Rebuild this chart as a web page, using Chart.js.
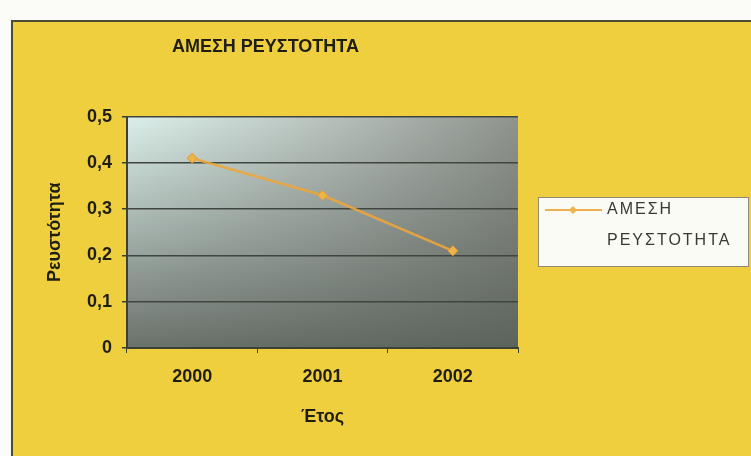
<!DOCTYPE html>
<html>
<head>
<meta charset="utf-8">
<title>ΑΜΕΣΗ ΡΕΥΣΤΟΤΗΤΑ</title>
<script src="https://cdn.jsdelivr.net/npm/chart.js@4/dist/chart.umd.min.js"></script>
<style>
  html, body { margin: 0; padding: 0; background: #fbfbf8; }
  body { width: 751px; height: 456px; overflow: hidden; position: relative; }
  #frame {
    position: absolute; left: 11px; top: 20px;
    width: 740px; height: 436px;
    background: #f0cf3f;
    border-left: 2px solid #4d4b37;
    border-top: 2px solid #4d4b37;
    box-sizing: border-box;
  }
  #chart { display: block; }
</style>
</head>
<body>
<div id="frame"><canvas id="chart" width="738" height="434"></canvas></div>
<script>
// Years on the category axis and the quick-ratio value for each year
const years = ['2000', '2001', '2002'];
const liquidity = [0.41, 0.33, 0.21];
const seriesName = 'ΑΜΕΣΗ ΡΕΥΣΤΟΤΗΤΑ';
const chartTitle = 'ΑΜΕΣΗ ΡΕΥΣΤΟΤΗΤΑ';
const yTitle = 'Ρευστότητα';
const xTitle = 'Έτος';

const FONT = "'Liberation Sans', Arial, sans-serif";

// Shaded plot background: light in the upper left, darker grey to the right and bottom
const plotShade = {
  id: 'plotShade',
  beforeDraw(chart) {
    const { ctx, chartArea: a } = chart;
    const top = [[220, 239, 234], [185, 195, 190], [142, 147, 141]];
    const bot = [[106, 113, 107], [99, 106, 100], [92, 98, 92]];
    const mix = (p, q, t) => p.map((v, i) => Math.round(v + (q[i] - v) * t));
    const x0 = Math.floor(a.left), x1 = Math.ceil(a.right);
    const y0 = Math.floor(a.top), y1 = Math.ceil(a.bottom);
    const h = y1 - y0;
    ctx.save();
    for (let y = 0; y < h; y += 2) {
      const t = y / h;
      const g = ctx.createLinearGradient(x0, 0, x1, 0);
      [0, 0.5, 1].forEach((s, i) => {
        const c = mix(top[i], bot[i], t);
        g.addColorStop(s, `rgb(${c[0]},${c[1]},${c[2]})`);
      });
      ctx.fillStyle = g;
      ctx.fillRect(x0, y0 + y, x1 - x0, Math.min(3, h - y));
    }
    ctx.restore();
  }
};

// Boxed legend to the right of the plot, series name wrapped onto two lines
const boxLegend = {
  id: 'boxLegend',
  afterDraw(chart) {
    const { ctx } = chart;
    const ds = chart.data.datasets[0];
    const lines = ds.label.split(' ');
    ctx.save();
    ctx.fillStyle = '#fbfbf6';
    ctx.strokeStyle = '#8c8a78';
    ctx.lineWidth = 1;
    ctx.fillRect(525, 175, 210, 69);
    ctx.strokeRect(525.5, 175.5, 210, 69);
    ctx.strokeStyle = ds.borderColor;
    ctx.lineWidth = 2;
    ctx.beginPath();
    ctx.moveTo(532, 188);
    ctx.lineTo(589, 188);
    ctx.stroke();
    ctx.fillStyle = ds.pointBackgroundColor;
    ctx.beginPath();
    ctx.moveTo(560, 184); ctx.lineTo(564, 188); ctx.lineTo(560, 192); ctx.lineTo(556, 188);
    ctx.closePath();
    ctx.fill();
    ctx.fillStyle = '#3a3a34';
    ctx.font = `16px ${FONT}`;
    ctx.letterSpacing = '2px';
    ctx.textBaseline = 'middle';
    ctx.textAlign = 'left';
    lines.forEach((s, i) => ctx.fillText(s, 594, 188 + i * 31));
    ctx.restore();
  }
};

new Chart(document.getElementById('chart'), {
  type: 'line',
  data: {
    labels: years,
    datasets: [{
      label: seriesName,
      data: liquidity,
      borderColor: 'rgba(236, 166, 60, 0.9)',
      borderWidth: 2.5,
      pointStyle: 'rectRot',
      pointRadius: 5,
      pointBackgroundColor: '#efb447',
      pointBorderColor: '#e09a36',
      pointBorderWidth: 1,
      tension: 0
    }]
  },
  options: {
    responsive: false,
    animation: false,
    layout: { padding: { left: 0, top: 0, right: 233, bottom: 28 } },
    plugins: {
      legend: { display: false },
      tooltip: { enabled: false },
      title: {
        display: true,
        text: chartTitle,
        color: '#1e1e14',
        font: { family: FONT, size: 18, weight: 'bold' },
        padding: { top: 14, bottom: 59 }
      }
    },
    scales: {
      x: {
        offset: true,
        grid: { display: true, drawOnChartArea: false, drawTicks: true, tickLength: 5, color: '#3d4036', offset: true },
        border: { display: true, color: '#3d4036', width: 2 },
        ticks: { color: '#1e1e14', font: { family: FONT, size: 18, weight: 'bold' }, padding: 13 },
        title: { display: true, text: xTitle, color: '#1e1e14', font: { family: FONT, size: 18, weight: 'bold' }, padding: { top: 0, bottom: 0 } },
        afterFit(scale) { scale.height = 80; }
      },
      y: {
        min: 0,
        max: 0.5,
        ticks: {
          stepSize: 0.1,
          color: '#1e1e14',
          font: { family: FONT, size: 18, weight: 'bold' },
          padding: 10,
          callback: v => (v === 0 ? '0' : v.toFixed(1).replace('.', ','))
        },
        grid: { color: '#3f453f', lineWidth: 1.5, drawTicks: true, tickLength: 5, tickColor: '#3d4036' },
        border: { display: true, color: '#3d4036', width: 2 },
        title: { display: true, text: yTitle, color: '#1e1e14', font: { family: FONT, size: 18, weight: 'bold' }, padding: { top: 31, bottom: 0 } },
        afterFit(scale) { scale.width = 114; }
      }
    }
  },
  plugins: [plotShade, boxLegend]
});
</script>
</body>
</html>
